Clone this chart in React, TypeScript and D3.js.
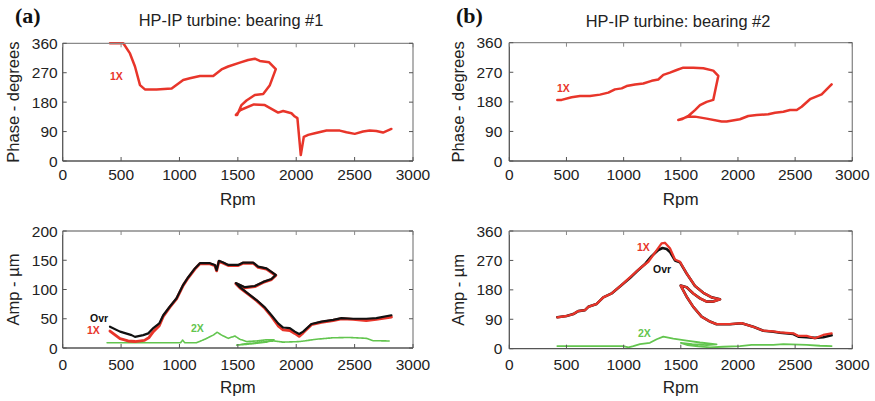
import React from "react";
import * as d3 from "d3";

type P = [number, number];

const xTicks = [0, 500, 1000, 1500, 2000, 2500, 3000];
const phaseTicks = [0, 90, 180, 270, 360];
const ampTicksA = [0, 50, 100, 150, 200];
const ampTicksB = [0, 90, 180, 270, 360];

const phaseA1X: P[] = [
  [405, 360], [519, 360], [576, 329], [619, 289], [662, 232], [704, 219], [804, 219], [933, 222],
  [1032, 248], [1089, 253], [1175, 260], [1289, 260], [1360, 280], [1417, 289], [1517, 301],
  [1588, 309], [1645, 313], [1688, 306], [1768, 302], [1825, 281], [1774, 232], [1717, 205],
  [1645, 202], [1574, 185], [1531, 171], [1494, 141], [1483, 141], [1523, 156], [1637, 173],
  [1731, 171], [1845, 148], [1888, 153], [1959, 146], [1988, 136], [2010, 131], [2039, 18],
  [2065, 74], [2102, 80], [2159, 85], [2259, 93], [2373, 93], [2430, 88], [2501, 83], [2572, 90],
  [2629, 93], [2686, 92], [2743, 87], [2815, 98],
];

const phaseB1X: P[] = [
  [420, 186], [458, 186], [545, 194], [618, 198], [706, 198], [793, 202], [866, 208], [924, 218],
  [983, 221], [1026, 228], [1099, 233], [1172, 236], [1245, 244], [1303, 248], [1347, 262],
  [1405, 269], [1464, 277], [1522, 284], [1609, 284], [1697, 282], [1784, 275], [1828, 259],
  [1808, 226], [1784, 186], [1726, 180], [1668, 170], [1624, 155], [1566, 137], [1507, 127],
  [1478, 125], [1566, 135], [1624, 135], [1726, 129], [1857, 120], [1901, 120], [2017, 127],
  [2090, 137], [2163, 140], [2265, 142], [2324, 147], [2397, 150], [2455, 155], [2514, 155],
  [2557, 165], [2630, 188], [2732, 203], [2819, 233],
];

const ampAOvr: P[] = [
  [405, 36.5], [491, 28], [590, 22], [619, 19], [690, 22], [733, 25], [776, 34], [827, 42],
  [861, 56], [918, 71], [975, 85], [1032, 108], [1075, 121], [1132, 136], [1175, 145], [1261, 145],
  [1303, 142], [1318, 133], [1338, 149], [1375, 146], [1418, 142], [1503, 142], [1546, 146],
  [1631, 146], [1674, 139], [1745, 136], [1825, 125], [1788, 118], [1717, 113], [1645, 106],
  [1560, 104], [1483, 111], [1517, 104], [1588, 93], [1660, 82], [1731, 69.5], [1788, 56],
  [1845, 42], [1888, 35], [1945, 34], [1988, 28], [2025, 24], [2059, 28], [2130, 41], [2216, 45],
  [2316, 48], [2387, 51], [2487, 50], [2600, 50], [2686, 51], [2815, 56],
];

const ampA1X: P[] = [
  [405, 29], [491, 16], [560, 12], [620, 11], [700, 13], [740, 18], [776, 28], [827, 38],
  [861, 54], [918, 70], [975, 84], [1032, 107], [1075, 120], [1132, 135], [1175, 144], [1261, 144],
  [1303, 141], [1318, 132], [1338, 148], [1375, 145], [1418, 141], [1503, 141], [1546, 145],
  [1631, 145], [1674, 138], [1745, 135], [1825, 124], [1788, 117], [1717, 112], [1645, 105],
  [1560, 103], [1483, 110], [1517, 103], [1588, 92], [1660, 81], [1731, 68], [1788, 54],
  [1845, 38], [1888, 31], [1945, 30], [1988, 25], [2025, 20], [2059, 26], [2130, 40], [2216, 44],
  [2316, 47], [2387, 50], [2487, 49], [2600, 47], [2686, 49], [2815, 53],
];

const ampA2X: P[] = [
  [380, 9], [1010, 9], [1027, 13.5], [1046, 9], [1146, 9], [1218, 15], [1289, 22], [1323, 27],
  [1361, 22], [1418, 16.5], [1474, 20.5], [1517, 15], [1574, 11], [1660, 12], [1745, 14],
  [1810, 14], [1745, 10], [1660, 8], [1560, 6], [1490, 5], [1560, 7], [1660, 9], [1750, 11],
  [1810, 12], [1888, 10], [2030, 11], [2173, 15], [2316, 17.5], [2458, 18], [2600, 16.5],
  [2657, 12.5], [2800, 12],
];

const ampB1X: P[] = [
  [420, 96], [501, 100], [560, 106], [603, 115], [662, 118], [691, 128], [764, 137], [822, 157],
  [895, 169], [983, 195], [1055, 218], [1143, 246], [1216, 266], [1274, 294], [1332, 322],
  [1361, 324], [1405, 307], [1449, 273], [1493, 266], [1551, 230], [1624, 192], [1697, 171],
  [1770, 157], [1843, 151], [1784, 144], [1726, 144], [1668, 154], [1609, 169], [1551, 188],
  [1499, 193], [1551, 159], [1609, 128], [1682, 98], [1755, 83], [1813, 75], [1930, 75],
  [2032, 78], [2134, 67], [2222, 55], [2309, 53], [2368, 50], [2484, 47], [2529, 39], [2601, 39],
  [2673, 32], [2746, 42], [2819, 47],
];

const ampBOvr: P[] = [
  [420, 96], [501, 100], [560, 106], [603, 115], [662, 118], [691, 128], [764, 137], [822, 157],
  [895, 169], [983, 195], [1055, 216], [1114, 236], [1190, 260], [1245, 283], [1303, 302],
  [1340, 308], [1376, 305], [1405, 296], [1449, 270], [1493, 264], [1551, 230], [1624, 192],
  [1697, 171], [1770, 157], [1843, 151], [1784, 144], [1726, 144], [1668, 154], [1609, 169],
  [1551, 188], [1499, 193], [1551, 159], [1609, 128], [1682, 98], [1755, 83], [1813, 75],
  [1930, 75], [2032, 78], [2134, 67], [2222, 55], [2309, 52], [2368, 49], [2484, 45], [2529, 37],
  [2601, 35], [2673, 33], [2746, 35], [2819, 41],
];

const ampB2X: P[] = [
  [420, 8], [997, 8], [1041, 4], [1085, 8], [1143, 14], [1230, 18], [1289, 29], [1347, 37],
  [1434, 31], [1551, 25], [1668, 19], [1813, 13], [1726, 11], [1600, 14], [1500, 18], [1560, 11],
  [1650, 7], [1755, 4], [1872, 6], [2017, 8], [2119, 12], [2309, 12], [2397, 14], [2601, 12],
  [2717, 9], [2819, 8],
];

const RED = "#e8352a";
const BLACK = "#111111";
const GREEN = "#63c54f";

type Series = { data: P[]; color: string; width: number; dash?: string };
type Label = { text: string; x: number; y: number; color: string };

type PanelProps = {
  x0: number; x1: number; yTop: number; yBot: number;
  yMax: number; yTicks: number[];
  series: Series[]; labels: Label[];
  yLabel: string; yLabelX: number; tickLabelGap: number;
  tickBaseline: number; rpmBaseline: number;
};

const FONT = "'Liberation Sans', Arial, Helvetica, sans-serif";

function Panel(p: PanelProps) {
  const x = d3.scaleLinear().domain([0, 3000]).range([p.x0, p.x1]);
  const y = d3.scaleLinear().domain([0, p.yMax]).range([p.yBot, p.yTop]);
  const line = d3.line<P>().x((d) => x(d[0])).y((d) => y(d[1])).curve(d3.curveLinear);
  const tl = 4;
  const yMid = (p.yTop + p.yBot) / 2;
  return (
    <g>
      {p.series.map((s, i) => (
        <path key={i} d={line(s.data) || ""} fill="none" stroke={s.color} strokeWidth={s.width}
          strokeLinejoin="round" strokeLinecap="round" strokeDasharray={s.dash} />
      ))}
      <line x1={p.x0} x2={p.x1} y1={p.yTop} y2={p.yTop} stroke="#8a8a8a" strokeWidth={1.3} />
      <line x1={p.x1} x2={p.x1} y1={p.yTop} y2={p.yBot} stroke="#8a8a8a" strokeWidth={1.3} />
      <line x1={p.x0} x2={p.x1} y1={p.yBot} y2={p.yBot} stroke="#555" strokeWidth={1.3} />
      <line x1={p.x0} x2={p.x0} y1={p.yTop} y2={p.yBot} stroke="#555" strokeWidth={1.3} />
      {xTicks.map((t) => (
        <g key={"x" + t}>
          <line x1={x(t)} x2={x(t)} y1={p.yBot} y2={p.yBot - tl} stroke="#555" strokeWidth={1} />
          <line x1={x(t)} x2={x(t)} y1={p.yTop} y2={p.yTop + tl} stroke="#888" strokeWidth={1} />
          <text x={x(t)} y={p.tickBaseline} textAnchor="middle" fontSize={15.5} fill="#222" fontFamily={FONT}>{t}</text>
        </g>
      ))}
      {p.yTicks.map((t) => (
        <g key={"y" + t}>
          <line x1={p.x0} x2={p.x0 + tl} y1={y(t)} y2={y(t)} stroke="#555" strokeWidth={1} />
          <line x1={p.x1} x2={p.x1 - tl} y1={y(t)} y2={y(t)} stroke="#555" strokeWidth={1} />
          <text x={p.x0 - p.tickLabelGap} y={y(t) + 5.5} textAnchor="end" fontSize={15.5} fill="#222" fontFamily={FONT}>{t}</text>
        </g>
      ))}
      <text x={(p.x0 + p.x1) / 2} y={p.rpmBaseline} textAnchor="middle" fontSize={17} fill="#222" fontFamily={FONT}>Rpm</text>
      <text transform={`translate(${p.yLabelX},${yMid}) rotate(-90)`} textAnchor="middle" fontSize={16.5} fill="#222" fontFamily={FONT}>{p.yLabel}</text>
      {p.labels.map((l, i) => (
        <text key={i} x={l.x} y={l.y} fontSize={10.5} fontWeight="bold" fill={l.color} fontFamily={FONT}>{l.text}</text>
      ))}
    </g>
  );
}

export default function App() {
  return (
    <svg width={875} height={401} style={{ position: "absolute", left: 0, top: 0, background: "#fff" }}>
      <rect width={875} height={401} fill="#fff" />
      <text x={15} y={23} fontSize={22} fontWeight="bold" fontFamily="'Liberation Serif', 'Times New Roman', serif" fill="#111">(a)</text>
      <text x={456} y={23} fontSize={22} fontWeight="bold" fontFamily="'Liberation Serif', 'Times New Roman', serif" fill="#111">(b)</text>
      <text x={231} y={26} textAnchor="middle" fontSize={16.4} fill="#222" fontFamily={FONT}>HP-IP turbine: bearing #1</text>
      <text x={678} y={27} textAnchor="middle" fontSize={16.4} fill="#222" fontFamily={FONT}>HP-IP turbine: bearing #2</text>

      <Panel x0={62.7} x1={413} yTop={43.3} yBot={161} yMax={360} yTicks={phaseTicks}
        series={[{ data: phaseA1X, color: RED, width: 2.5 }]}
        labels={[{ text: "1X", x: 110, y: 80, color: RED }]}
        yLabel="Phase - degrees" yLabelX={19} tickLabelGap={5} tickBaseline={180} rpmBaseline={205} />
      <Panel x0={509.3} x1={852.3} yTop={42.7} yBot={161} yMax={360} yTicks={phaseTicks}
        series={[{ data: phaseB1X, color: RED, width: 2.5 }]}
        labels={[{ text: "1X", x: 557, y: 92, color: RED }]}
        yLabel="Phase - degrees" yLabelX={464} tickLabelGap={7} tickBaseline={180} rpmBaseline={205} />
      <Panel x0={62.7} x1={413} yTop={231} yBot={348} yMax={200} yTicks={ampTicksA}
        series={[
          { data: ampA2X, color: GREEN, width: 1.6, dash: "1.5 0.6" },
          { data: ampA1X, color: RED, width: 2.9 },
          { data: ampAOvr, color: BLACK, width: 2.2 },
        ]}
        labels={[
          { text: "Ovr", x: 90, y: 322, color: BLACK },
          { text: "1X", x: 87, y: 334, color: RED },
          { text: "2X", x: 191, y: 332, color: GREEN },
        ]}
        yLabel="Amp - µm" yLabelX={19} tickLabelGap={5} tickBaseline={370} rpmBaseline={393} />
      <Panel x0={509.3} x1={852.3} yTop={231} yBot={348.7} yMax={360} yTicks={ampTicksB}
        series={[
          { data: ampB2X, color: GREEN, width: 1.8 },
          { data: ampBOvr, color: BLACK, width: 2.6 },
          { data: ampB1X, color: RED, width: 2.3 },
        ]}
        labels={[
          { text: "1X", x: 637, y: 251, color: RED },
          { text: "Ovr", x: 653, y: 273, color: BLACK },
          { text: "2X", x: 638, y: 337, color: GREEN },
        ]}
        yLabel="Amp - µm" yLabelX={464} tickLabelGap={7} tickBaseline={370} rpmBaseline={393} />
    </svg>
  );
}
